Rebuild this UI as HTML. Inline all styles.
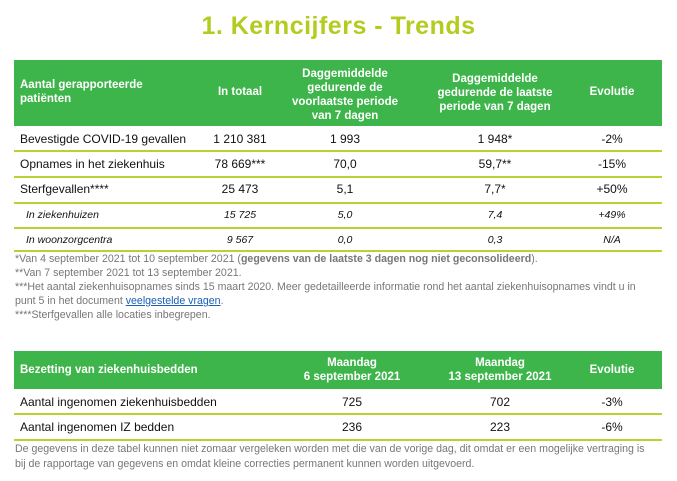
<!DOCTYPE html>
<html><head><meta charset="utf-8"><style>
body{margin:0;width:677px;height:481px;background:#fff;font-family:"Liberation Sans",Arial,sans-serif;position:relative;overflow:hidden}
.a{position:absolute}
.title{left:0;width:677px;top:12px;text-align:center;font-size:25px;font-weight:bold;color:#b3cc1f;letter-spacing:0.5px}
.hdr{background:#3db54a;color:#fff;font-weight:bold;font-size:11.5px}
.c{position:absolute;text-align:center;transform:translateX(-50%);white-space:nowrap}
.l{position:absolute;white-space:nowrap}
.row{position:absolute;left:14px;width:648px;border-bottom:2px solid #b5d334;font-size:12px;color:#111}
.row.it{font-style:italic;font-size:10.5px}
.fn{font-size:10.6px;color:#777;line-height:14px;white-space:nowrap}
</style></head><body>
<div class="a title">1. Kerncijfers - Trends</div>

<div class="a hdr" style="left:14px;top:60px;width:648px;height:66px">
 <div class="l" style="left:6px;top:18px;line-height:14px">Aantal gerapporteerde<br>patiënten</div>
 <div class="c" style="left:226px;top:26px">In totaal</div>
 <div class="c" style="left:331px;top:7px;line-height:14px">Daggemiddelde<br>gedurende de<br>voorlaatste periode<br>van 7 dagen</div>
 <div class="c" style="left:481px;top:12px;line-height:14px">Daggemiddelde<br>gedurende de laatste<br>periode van 7 dagen</div>
 <div class="c" style="left:598px;top:26px">Evolutie</div>
</div>

<div class="row" style="top:126px;height:24px">
 <div class="l" style="left:6px;top:6px">Bevestigde COVID-19 gevallen</div>
 <div class="c" style="left:226px;top:6px">1 210 381</div><div class="c" style="left:331px;top:6px">1 993</div>
 <div class="c" style="left:481px;top:6px">1 948*</div><div class="c" style="left:598px;top:6px">-2%</div></div>
<div class="row" style="top:152px;height:24px">
 <div class="l" style="left:6px;top:5px">Opnames in het ziekenhuis</div>
 <div class="c" style="left:226px;top:5px">78 669***</div><div class="c" style="left:331px;top:5px">70,0</div>
 <div class="c" style="left:481px;top:5px">59,7**</div><div class="c" style="left:598px;top:5px">-15%</div></div>
<div class="row" style="top:178px;height:24px">
 <div class="l" style="left:6px;top:4px">Sterfgevallen****</div>
 <div class="c" style="left:226px;top:4px">25 473</div><div class="c" style="left:331px;top:4px">5,1</div>
 <div class="c" style="left:481px;top:4px">7,7*</div><div class="c" style="left:598px;top:4px">+50%</div></div>
<div class="row it" style="top:204px;height:23px">
 <div class="l" style="left:12px;top:5px">In ziekenhuizen</div>
 <div class="c" style="left:226px;top:5px">15 725</div><div class="c" style="left:331px;top:5px">5,0</div>
 <div class="c" style="left:481px;top:5px">7,4</div><div class="c" style="left:598px;top:5px">+49%</div></div>
<div class="row it" style="top:229px;height:21px">
 <div class="l" style="left:12px;top:5px">In woonzorgcentra</div>
 <div class="c" style="left:226px;top:5px">9 567</div><div class="c" style="left:331px;top:5px">0,0</div>
 <div class="c" style="left:481px;top:5px">0,3</div><div class="c" style="left:598px;top:5px">N/A</div></div>

<div class="a fn" style="left:15px;top:252px">
*Van 4 september 2021 tot 10 september 2021 (<b>gegevens van de laatste 3 dagen nog niet geconsolideerd</b>).<br>
**Van 7 september 2021 tot 13 september 2021.<br>
***Het aantal ziekenhuisopnames sinds 15 maart 2020. Meer gedetailleerde informatie rond het aantal ziekenhuisopnames vindt u in<br>
punt 5 in het document <span style="color:#1a5fb4;text-decoration:underline">veelgestelde vragen</span>.<br>
****Sterfgevallen alle locaties inbegrepen.</div>

<div class="a hdr" style="left:14px;top:351px;width:648px;height:38px">
 <div class="l" style="left:6px;top:13px">Bezetting van ziekenhuisbedden</div>
 <div class="c" style="left:338px;top:5px;line-height:14px">Maandag<br>6 september 2021</div>
 <div class="c" style="left:486px;top:5px;line-height:14px">Maandag<br>13 september 2021</div>
 <div class="c" style="left:598px;top:13px">Evolutie</div>
</div>
<div class="row" style="top:389px;height:24px">
 <div class="l" style="left:6px;top:6px">Aantal ingenomen ziekenhuisbedden</div>
 <div class="c" style="left:338px;top:6px">725</div><div class="c" style="left:486px;top:6px">702</div><div class="c" style="left:598px;top:6px">-3%</div></div>
<div class="row" style="top:415px;height:24px">
 <div class="l" style="left:6px;top:5px">Aantal ingenomen IZ bedden</div>
 <div class="c" style="left:338px;top:5px">236</div><div class="c" style="left:486px;top:5px">223</div><div class="c" style="left:598px;top:5px">-6%</div></div>
<div class="a fn" style="left:15px;top:442px;line-height:15px">
De gegevens in deze tabel kunnen niet zomaar vergeleken worden met die van de vorige dag, dit omdat er een mogelijke vertraging is<br>
bij de rapportage van gegevens en omdat kleine correcties permanent kunnen worden uitgevoerd.</div>
</body></html>
